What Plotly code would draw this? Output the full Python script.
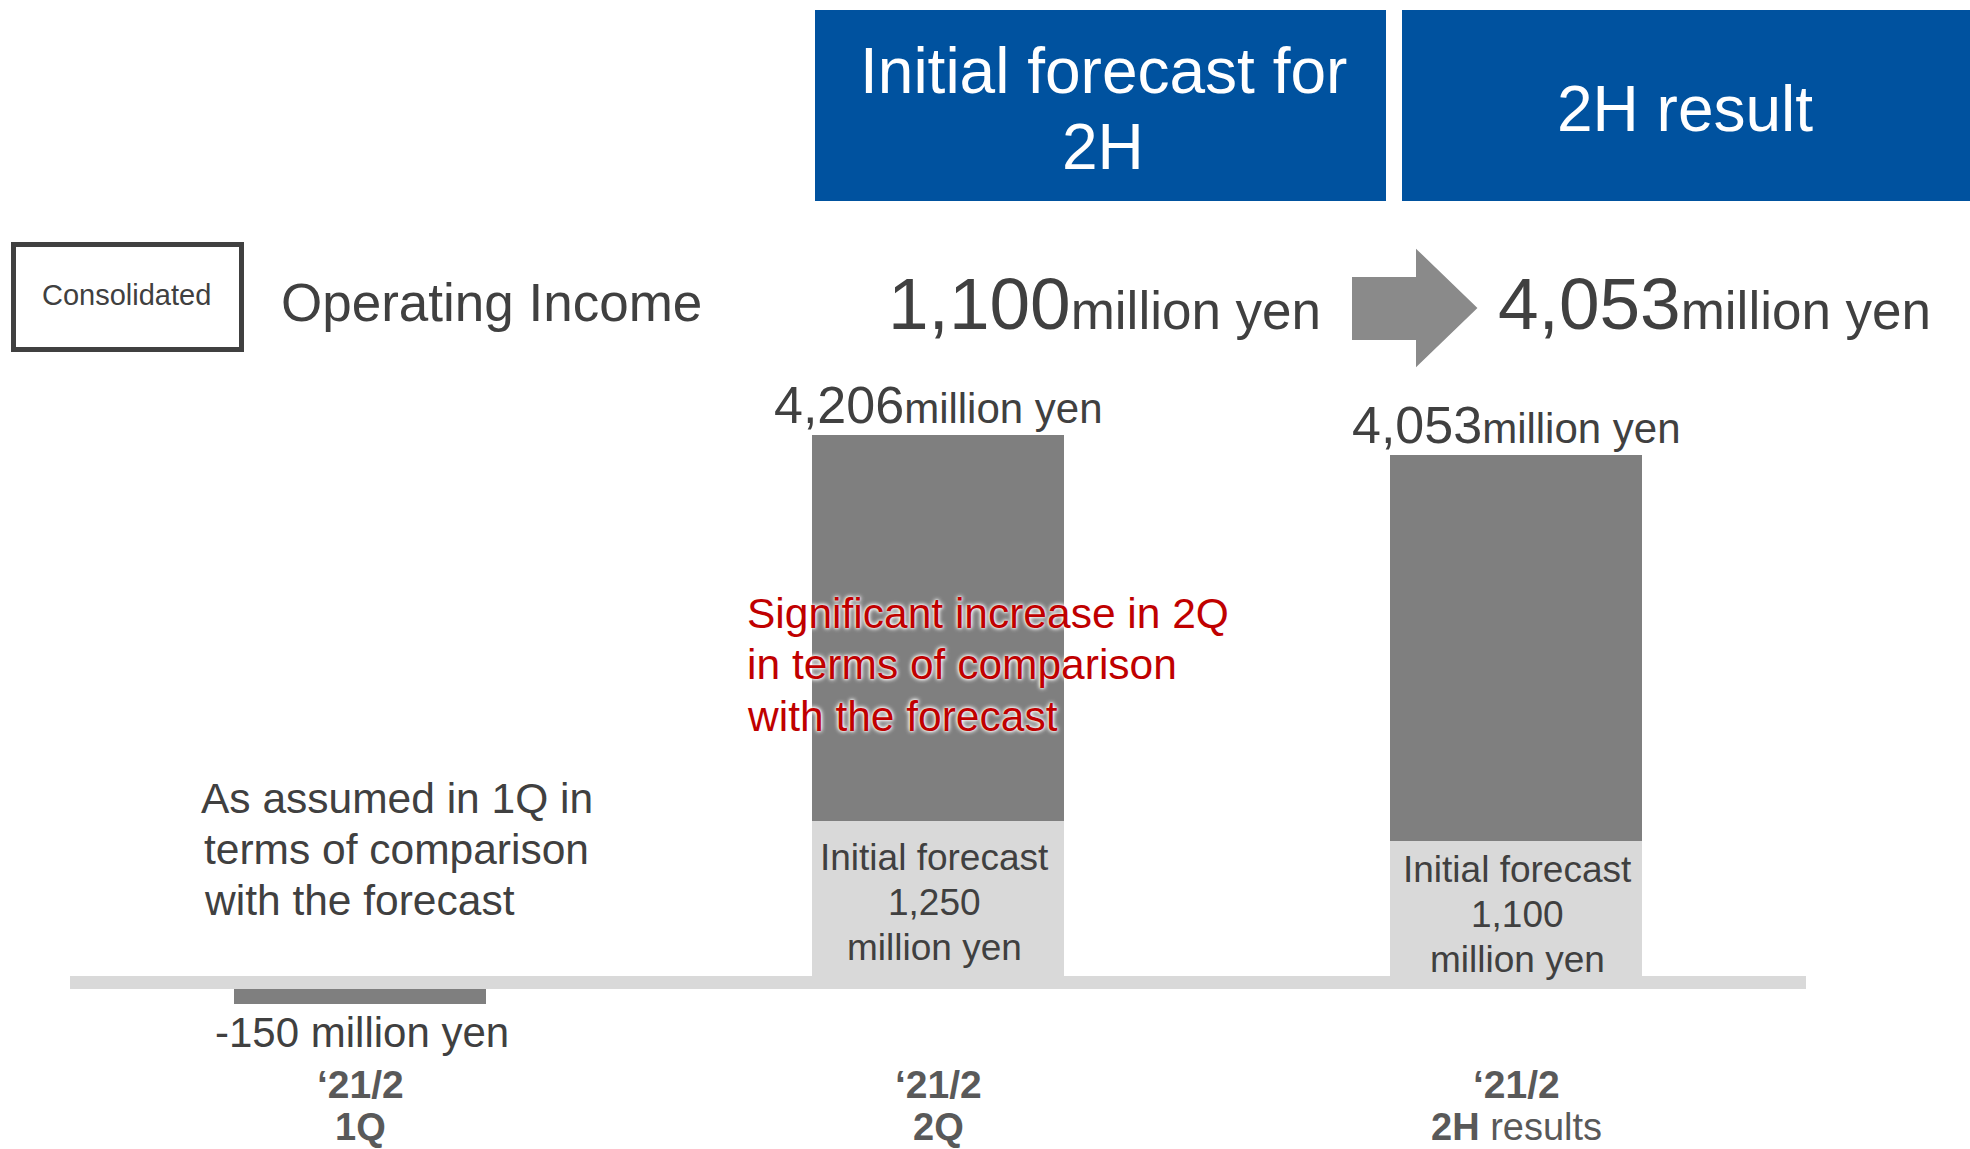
import plotly.graph_objects as go

# ---- data -------------------------------------------------------------
period = "‘21/2"
categories = ["1Q", "2Q", "2H results"]
results = [-150, 4206, 4053]            # operating income, million yen
initial_forecast = [None, 1250, 1100]   # initial forecast, million yen
forecast_2h = 1100
result_2h = 4053

# ---- canvas helpers ---------------------------------------------------
W, H = 1970, 1149
FONT = "Liberation Sans, Arial, sans-serif"
DARK = "#404040"
LABEL = "#595959"
BLUE = "#00529F"
BAR_DARK = "#7f7f7f"
BAR_LIGHT = "#d9d9d9"


def px(x):
    return x / W


def py(y):
    return 1 - y / H


# category positions 0, 1, 2; axis ranges put the bars where they belong
xs = list(range(len(categories)))
X_RANGE = [-0.6234, 2.785]
Y_RANGE = [-1259.6, 7538]
BAR_W = 0.436

base_light = [f if f is not None else 0 for f in initial_forecast]
upper = [r - (f if f is not None else 0) for r, f in zip(results, initial_forecast)]

fig = go.Figure()
fig.add_trace(go.Bar(
    x=xs, y=base_light, width=BAR_W, marker=dict(color=BAR_LIGHT, line_width=0),
    name="Initial forecast", hoverinfo="skip",
))
fig.add_trace(go.Bar(
    x=xs, y=upper, base=base_light, width=BAR_W,
    marker=dict(color=BAR_DARK, line_width=0),
    name="Result", hoverinfo="skip",
))

shapes = []
annotations = []


def text(x, y, s, size, color=DARK, xanchor="center", yanchor="middle", **kw):
    annotations.append(dict(
        x=x, y=y, xref=kw.pop("xref", "paper"), yref=kw.pop("yref", "paper"),
        text=s, showarrow=False, xanchor=xanchor, yanchor=yanchor,
        font=dict(family=FONT, size=size, color=kw.pop("fcolor", color),
                  **kw.pop("fextra", {})),
        align=kw.pop("align", "center"), **kw,
    ))


# header boxes
shapes.append(dict(type="rect", xref="paper", yref="paper", x0=px(815), x1=px(1386),
                   y0=py(201), y1=py(10), fillcolor=BLUE, line_width=0, layer="below"))
shapes.append(dict(type="rect", xref="paper", yref="paper", x0=px(1402), x1=px(1972),
                   y0=py(201), y1=py(10), fillcolor=BLUE, line_width=0, layer="below"))
text(px(1103), py(70.5), "Initial forecast for", 64, "#ffffff")
text(px(1103), py(147.5), "2H", 64, "#ffffff")
text(px(1685), py(108.5), "2H result", 64, "#ffffff")

# "Consolidated" tag and title
shapes.append(dict(type="rect", xref="paper", yref="paper", x0=px(13.5), x1=px(241.5),
                   y0=py(349.5), y1=py(244.5), line=dict(color=DARK, width=5),
                   fillcolor="rgba(0,0,0,0)"))
text(px(127), py(295), "Consolidated", 29)
text(px(279), py(302), "Operating Income", 53, xanchor="left")

# headline figures with arrow between them
text(px(1104), py(303),
     f"<span style='font-size:73px'>{forecast_2h:,}</span>million yen", 53)
text(px(1714), py(303),
     f"<span style='font-size:73px'>{result_2h:,}</span>million yen", 53)
arrow = [(1353, 278), (1417, 278), (1417, 251), (1476, 308),
         (1417, 365), (1417, 339), (1353, 339)]
path = "M " + " L ".join(f"{px(a)},{py(b)}" for a, b in arrow) + " Z"
shapes.append(dict(type="path", xref="paper", yref="paper", path=path,
                   fillcolor="#8a8a8a", line=dict(color="#8a8a8a", width=2)))

# baseline
shapes.append(dict(type="rect", xref="paper", yref="paper", x0=px(70), x1=px(1806),
                   y0=py(989), y1=py(976), fillcolor=BAR_LIGHT, line_width=0,
                   layer="above"))

# value labels on top of the positive bars
for i, (r, f) in enumerate(zip(results, initial_forecast)):
    if r > 0:
        text(xs[i], r,
             f"<span style='font-size:52px'>{r:,}</span>million yen", 42,
             xref="x", yref="y", yanchor="bottom", yshift=-1)
    if f is not None:
        top = {1: 857, 2: 869}[i]
        shift = {1: -4, 2: 1}[i]
        for k, line in enumerate(["Initial forecast", f"{f:,}", "million yen"]):
            text(xs[i], py(top + 45 * k), line, 37, xref="x", xshift=shift)

# negative first quarter
text(xs[0], py(1032.5), f"{results[0]:,} million yen", 42, xref="x", xshift=2)

# category labels
for i, c in enumerate(categories):
    text(xs[i], py(1084), f"<b>{period}</b>", 39, LABEL, xref="x")
    if c.endswith("results"):
        lab = "<b>2H</b> results"
    else:
        lab = f"<b>{c}</b>"
    text(xs[i], py(1127), lab, 38, LABEL, xref="x")

# commentary
for k, line in enumerate(["As assumed in 1Q in", "terms of comparison", "with the forecast"]):
    text(px(199 if k == 0 else 202), py(798 + 51 * k), line, 42.5, xanchor="left")

halo = "0px 0px 5px #ffffff, 0px 0px 4px #ffffff, 0px 0px 2px #ffffff"
for k, line in enumerate(["Significant increase in 2Q", "in terms of comparison",
                          "with the forecast"]):
    text(px(745), py(613 + 51.5 * k), line, 42.5, "#C00000", xanchor="left",
         fextra=dict(shadow=halo))

fig.update_layout(
    width=W, height=H, autosize=False,
    margin=dict(l=0, r=0, t=0, b=0, pad=0),
    paper_bgcolor="#ffffff", plot_bgcolor="#ffffff",
    showlegend=False, barmode="overlay", bargap=0,
    xaxis=dict(range=X_RANGE, visible=False, fixedrange=True),
    yaxis=dict(range=Y_RANGE, visible=False, fixedrange=True),
    shapes=shapes, annotations=annotations,
)

fig.write_html("out.html", config=dict(displayModeBar=False))
